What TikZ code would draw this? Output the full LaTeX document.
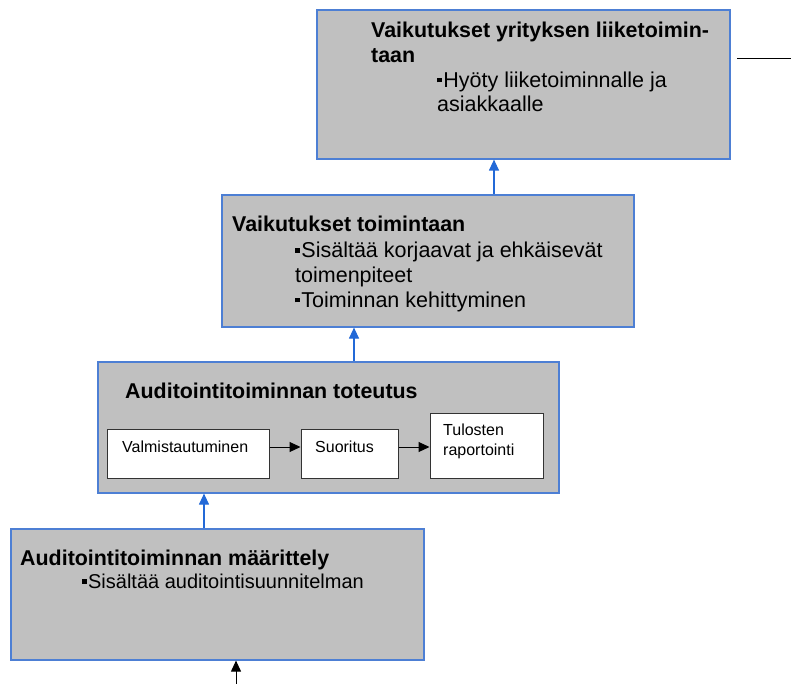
\documentclass[tikz,border=0pt]{standalone}
\usepackage{fontspec}
\setmainfont{Liberation Sans}
\usetikzlibrary{arrows.meta}
\definecolor{boxgray}{RGB}{192,192,192}
\definecolor{boxblue}{RGB}{77,127,212}
\definecolor{arrblue}{RGB}{35,105,215}
\newcommand{\sqbul}{\rule[0.22em]{0.22em}{0.22em}\hspace{1.5pt}}

\begin{document}
\begin{tikzpicture}[x=1pt, y=-1pt,
    box/.style={rectangle, draw=boxblue, line width=1.2pt, fill=boxgray, inner sep=0pt},
    inbox/.style={rectangle, draw=black!80, line width=1pt, fill=white, inner sep=0pt},
    head/.style={anchor=base west, inner sep=0pt, align=left, font=\fontsize{21.4}{25.3}\selectfont\bfseries},
    item/.style={anchor=base west, inner sep=0pt, align=left, font=\fontsize{20}{25}\selectfont},
    bigitem/.style={item, font=\fontsize{21.5}{24.8}\selectfont},
    small/.style={anchor=base west, inner sep=0pt, align=left, font=\fontsize{16}{20}\selectfont},
    up/.style={draw=arrblue, line width=1.2pt, -{Triangle[width=10pt,length=11pt]}},
    flow/.style={draw=black, line width=1pt, -{Triangle[width=10pt,length=11pt]}}]
            \useasboundingbox (0,0) rectangle (791,684);

            % boxes
            \node[box, minimum width=413pt, minimum height=149pt] (B1) at (523.5,84.5) {};
            \node[box, minimum width=412pt, minimum height=132pt] (B2) at (428,261) {};
            \node[box, minimum width=461pt, minimum height=131pt] (B3) at (328.5,427.5) {};
            \node[box, minimum width=413pt, minimum height=131pt] (B4) at (217.5,594.5) {};

            \node[inbox, minimum width=162pt, minimum height=49pt] (V) at (188,453.5) {};
            \node[inbox, minimum width=97pt, minimum height=49pt]  (S) at (349.5,453.5) {};
            \node[inbox, minimum width=113pt, minimum height=65pt] (T) at (486.5,445.5) {};

            % texts (base = last line)
            \node[head] (h1) at (371,63) {Vaikutukset yrityksen liiketoimin-\\taan};
            \node[bigitem] (i1) at (437,112) {\sqbul Hyöty liiketoiminnalle ja\\asiakkaalle};
            \node[head] (h2) at (232,232) {Vaikutukset toimintaan};
            \node[bigitem] (i2) at (295,307) {\sqbul Sisältää korjaavat ja ehkäisevät\\toimenpiteet\\\sqbul Toiminnan kehittyminen};
            \node[head] (h3) at (125,398) {Auditointitoiminnan toteutus};
            \node[small] (tv) at (122,452) {Valmistautuminen};
            \node[small] (ts) at (315,452) {Suoritus};
            \node[small] (tt) at (443,455) {Tulosten\\raportointi};
            \node[head] (h4) at (20,565) {Auditointitoiminnan määrittely};
            \node[item] (i4) at (82,588) {\sqbul Sisältää auditointisuunnitelman};

            % connectors
            \coordinate (a1) at (494,0);
            \coordinate (a2) at (354,0);
            \coordinate (a3) at (204,0);
            \coordinate (in) at (236,684);
            \coordinate (out1) at (737,59);
            \coordinate (out2) at (791,59);

            \draw[up] (a1 |- B2.north) -- (a1 |- B1.south);
            \draw[up] (a2 |- B3.north) -- (a2 |- B2.south);
            \draw[up] (a3 |- B4.north) -- (a3 |- B3.south);
            \draw[flow] (in) -- (in |- B4.south);
            \draw[black, line width=1pt] (out1) -- (out2);

            \draw[flow] ([yshift=6.5pt]V.east) -- ([yshift=6.5pt]S.west);
            \draw[flow] ([yshift=6.5pt]S.east) -- ([yshift=6.5pt]S.east -| T.west);
        \end{tikzpicture}
\end{document}
